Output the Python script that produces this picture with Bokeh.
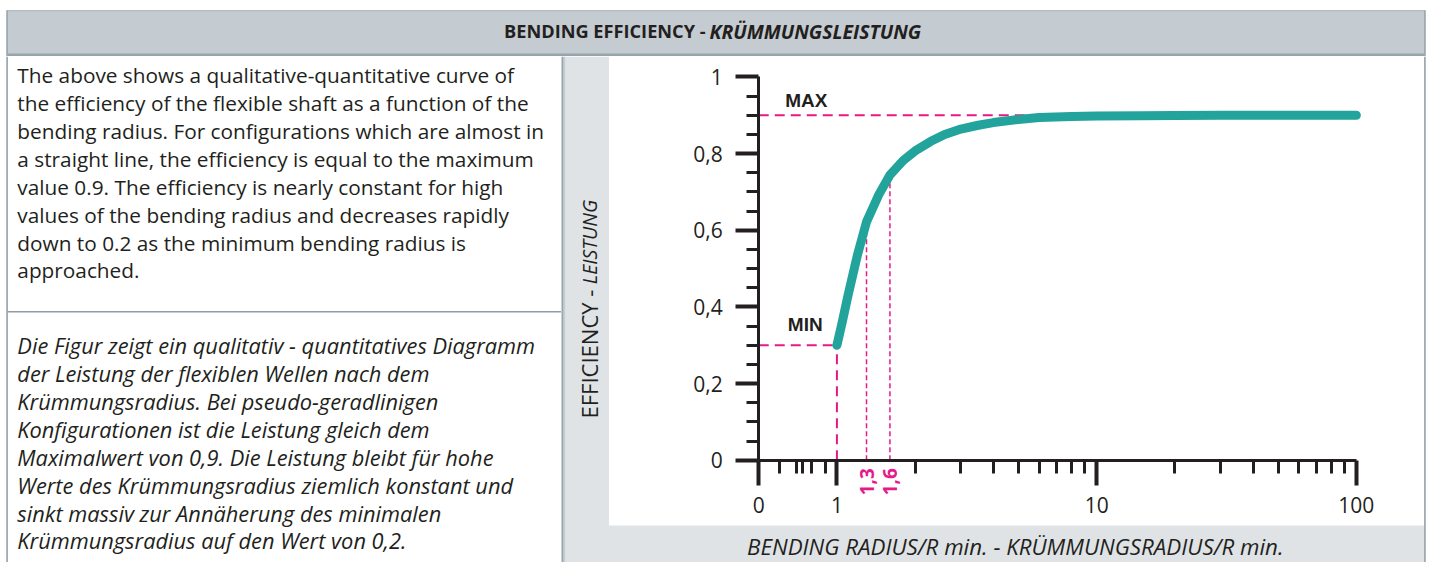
import math
from bokeh.plotting import figure
from bokeh.models import Range1d, FixedTicker, LinearScale
from bokeh.layouts import column, row
from bokeh.embed import file_html
from bokeh.resources import INLINE
from bokeh.core.properties import value

# ---------------- data ----------------
title_main = "BENDING EFFICIENCY -"
title_it = "KRÜMMUNGSLEISTUNG"
ylabel_main = "EFFICIENCY -"
ylabel_it = "LEISTUNG"
xlabel = "BENDING RADIUS/R min. - KRÜMMUNGSRADIUS/R min."

text_en = [
    "The above shows a qualitative-quantitative curve of",
    "the efficiency of the flexible shaft as a function of the",
    "bending radius. For configurations which are almost in",
    "a straight line, the efficiency is equal to the maximum",
    "value 0.9. The efficiency is nearly constant for high",
    "values of the bending radius and decreases rapidly",
    "down to 0.2 as the minimum bending radius is",
    "approached.",
]
text_de = [
    "Die Figur zeigt ein qualitativ - quantitatives Diagramm",
    "der Leistung der flexiblen Wellen nach dem",
    "Krümmungsradius. Bei pseudo-geradlinigen",
    "Konfigurationen ist die Leistung gleich dem",
    "Maximalwert von 0,9. Die Leistung bleibt für hohe",
    "Werte des Krümmungsradius ziemlich konstant und",
    "sinkt massiv zur Annäherung des minimalen",
    "Krümmungsradius auf den Wert von 0,2.",
]

radius_ratio = [1.0, 1.05, 1.1, 1.2, 1.3, 1.45, 1.6, 1.8, 2.0, 2.3, 2.6, 3.0,
                3.5, 4.0, 5.0, 6.0, 8.0, 10, 15, 20, 30, 50, 100]
efficiency = [0.300, 0.363, 0.426, 0.536, 0.622, 0.693, 0.744, 0.782, 0.807,
              0.832, 0.850, 0.864, 0.874, 0.881, 0.889, 0.894, 0.897, 0.898,
              0.899, 0.8995, 0.900, 0.900, 0.900]
eff_max = 0.9
eff_min = 0.3
r_min = 1.0
max_line_end = 7.0
marked_radii = [1.3, 1.6]
marked_labels = ["1,3", "1,6"]

x_major_ticks = [0.5, 1, 10, 100]
x_major_labels = ["0", "1", "10", "100"]
x_minor_ticks = [0.6, 0.7, 0.74, 0.8, 0.9,
                 2, 3, 4, 5, 6, 7, 8, 9,
                 20, 30, 40, 50, 60, 70, 80, 90]
y_major_ticks = [0, 0.2, 0.4, 0.6, 0.8, 1.0]
y_major_labels = ["0", "0,2", "0,4", "0,6", "0,8", "1"]
y_minor_ticks = [0.05, 0.1, 0.15, 0.25, 0.3, 0.35, 0.45, 0.5, 0.55,
                 0.65, 0.7, 0.75, 0.85, 0.9, 0.95]

# ---------------- styles / geometry (reference pixel space) ----------------
DARK = "#231f20"
HEAD_FILL = "#c4cbd1"
STRIP = "#dfe3e6"
BORDER = "#98a5ad"
MAGENTA = "#e6198b"
TEAL = "#22a39b"
FONT = value("Open Sans")

REF_W, REF_H = 1447, 578
CANVAS_W, CANVAS_H = 1431, 562
SX, SY = CANVAS_W / REF_W, CANVAS_H / REF_H
HEAD_BOTTOM = 58          # ref y where header ends
SPLIT_X = 567             # ref x where left text panel ends

# axis anchors in reference pixels
X_AT_HALF, X_AT_100 = 766.5, 1371.0
Y_AT_0, Y_AT_1 = 473.0, 79.0
DEC = (X_AT_100 - X_AT_HALF) / math.log10(100 / 0.5)
PPU = Y_AT_0 - Y_AT_1


def deco_fig(w, h, xr, yr):
    return figure(width=w, height=h, x_range=Range1d(*xr), y_range=Range1d(*yr),
                  x_axis_type=None, y_axis_type=None, tools="", toolbar_location=None,
                  output_backend="svg", min_border=0, outline_line_color=None,
                  background_fill_color="white", border_fill_color="white")


head_h = round(HEAD_BOTTOM * SY)
left_w = round(SPLIT_X * SX)
body_h = CANVAS_H - head_h
right_w = CANVAS_W - left_w

# ---------- header ----------
hdr = deco_fig(CANVAS_W, head_h, (0, REF_W), (HEAD_BOTTOM, 0))
hdr.quad(left=7, right=1440, top=10, bottom=56, fill_color=HEAD_FILL, line_color=None)
hdr.quad(left=7, right=1440, top=10, bottom=11.2, fill_color="#aab4bb", line_color=None)
hdr.quad(left=7, right=1440, top=55, bottom=57.5, fill_color=BORDER, line_color=None)
hdr.quad(left=5.8, right=7.5, top=10, bottom=58, fill_color=BORDER, line_color=None)
hdr.quad(left=1439.5, right=1441.2, top=10, bottom=58, fill_color=BORDER, line_color=None)
hdr.text(x=[713], y=[32], text=[title_main], text_font=FONT, text_font_size="18.2px",
         text_font_style="bold", text_color=DARK, text_align="right", text_baseline="middle")
hdr.text(x=[717], y=[32], text=[title_it], text_font=FONT, text_font_size="19.4px",
         text_font_style="bold italic", text_color=DARK, text_align="left", text_baseline="middle")

# ---------- left text panel ----------
left = deco_fig(left_w, body_h, (0, SPLIT_X), (REF_H, HEAD_BOTTOM))
left.quad(left=5.8, right=7.5, top=HEAD_BOTTOM, bottom=REF_H, fill_color=BORDER, line_color=None)
left.quad(left=7, right=SPLIT_X, top=319.5, bottom=321, fill_color="#8f9ca5", line_color=None)
en_y = [77 + i * 28.7 for i in range(len(text_en))]
de_y = [355 + i * 28.7 for i in range(len(text_de))]
left.text(x=[17] * len(text_en), y=en_y, text=text_en, text_font=FONT, text_font_size="20.8px",
          text_color=DARK, text_align="left", text_baseline="middle")
left.text(x=[17] * len(text_de), y=de_y, text=text_de, text_font=FONT, text_font_size="21.8px",
          text_font_style="italic", text_color=DARK, text_align="left", text_baseline="middle")

# ---------- right panel: chart with strips ----------
x_lo = 0.5 * 10 ** (-(X_AT_HALF - SPLIT_X) / DEC)
x_hi = 100 * 10 ** ((REF_W - X_AT_100) / DEC)
y_lo = -(REF_H - Y_AT_0) / PPU
y_hi = (Y_AT_0 - HEAD_BOTTOM) / PPU

p = figure(width=right_w, height=body_h, x_axis_type="log", x_range=Range1d(x_lo, x_hi),
           y_range=Range1d(y_lo, y_hi), tools="", toolbar_location=None, output_backend="svg",
           min_border=0, outline_line_color=None,
           background_fill_color="white", border_fill_color="white",
           extra_x_ranges={"px": Range1d(SPLIT_X, REF_W)}, extra_x_scales={"px": LinearScale()},
           extra_y_ranges={"px": Range1d(REF_H, HEAD_BOTTOM)}, extra_y_scales={"px": LinearScale()})
p.grid.visible = False
PX = dict(x_range_name="px", y_range_name="px")

# strips and borders
p.quad(left=571, right=615, top=HEAD_BOTTOM, bottom=REF_H, fill_color=STRIP, line_color=None, **PX)
p.quad(left=615, right=1440, top=540, bottom=REF_H, fill_color=STRIP, line_color=None, **PX)
p.quad(left=SPLIT_X - 0.5, right=569.2, top=HEAD_BOTTOM, bottom=REF_H, fill_color=BORDER,
       line_color=None, **PX)
p.quad(left=569.2, right=571, top=HEAD_BOTTOM, bottom=REF_H, fill_color="#c6cdd2",
       line_color=None, **PX)
p.quad(left=1439.5, right=1441.2, top=HEAD_BOTTOM, bottom=REF_H, fill_color=BORDER,
       line_color=None, **PX)
p.text(x=[595], y=[430], text=[ylabel_main], text_font=FONT, text_font_size="22px",
       text_color=DARK, angle=math.pi / 2, text_align="left", text_baseline="middle", **PX)
p.text(x=[595], y=[292], text=[ylabel_it], text_font=FONT, text_font_size="19.5px",
       text_font_style="italic", text_color=DARK, angle=math.pi / 2, text_align="left",
       text_baseline="middle", **PX)
p.text(x=[1026], y=[562], text=[xlabel], text_font=FONT, text_font_size="22.3px",
       text_font_style="italic", text_color=DARK, text_align="center", text_baseline="middle", **PX)

# axes
xa = p.xaxis[0]
xa.fixed_location = 0
xa.ticker = FixedTicker(ticks=x_major_ticks, minor_ticks=x_minor_ticks)
xa.bounds = (0.5, 100)
xa.major_label_overrides = dict(zip(x_major_ticks, x_major_labels))
ya = p.yaxis[0]
ya.fixed_location = 0.5
ya.ticker = FixedTicker(ticks=y_major_ticks, minor_ticks=y_minor_ticks)
ya.bounds = (0, 1)
ya.major_label_overrides = dict(zip(y_major_ticks, y_major_labels))
for ax, tick_out, minor_out in ((xa, 25, 13), (ya, 23, 12)):
    ax.axis_line_color = DARK
    ax.axis_line_width = 3
    ax.major_tick_line_color = DARK
    ax.major_tick_line_width = 4
    ax.major_tick_in = 0
    ax.major_tick_out = tick_out
    ax.minor_tick_line_color = DARK
    ax.minor_tick_line_width = 3
    ax.minor_tick_in = 0
    ax.minor_tick_out = minor_out
    ax.major_label_text_font = "Open Sans"
    ax.major_label_text_font_size = "21px"
    ax.major_label_text_color = DARK
xa.major_label_standoff = 12
ya.major_label_standoff = 13

# reference dashed lines
p.line(x=[0.5, max_line_end], y=[eff_max, eff_max], line_color=MAGENTA, line_width=2, line_dash="10 6")
p.line(x=[0.5, r_min], y=[eff_min, eff_min], line_color=MAGENTA, line_width=2, line_dash="10 6")
p.line(x=[r_min, r_min], y=[0, eff_min], line_color=MAGENTA, line_width=2, line_dash="10 6")
eff_at = dict(zip(radius_ratio, efficiency))
for r in marked_radii:
    p.line(x=[r, r], y=[0, eff_at[r]], line_color=MAGENTA, line_width=1.5, line_dash="5 3")
p.text(x=marked_radii, y=[-0.056] * len(marked_radii), text=marked_labels, angle=math.pi / 2,
       text_align="center", text_baseline="middle", text_font=FONT, text_font_size="19px",
       text_font_style="bold", text_color=MAGENTA)

# curve
p.line(x=radius_ratio, y=efficiency, line_color=TEAL, line_width=9, line_cap="round",
       line_join="round")

p.text(x=[0.762], y=[0.939], text=["MAX"], text_font=value("Liberation Sans"), text_font_size="19px",
       text_font_style="bold", text_color=DARK, text_align="center", text_baseline="middle")
p.text(x=[0.755], y=[0.355], text=["MIN"], text_font=value("Liberation Sans"), text_font_size="19px",
       text_font_style="bold", text_color=DARK, text_align="center", text_baseline="middle")

layout = column(hdr, row(left, p, spacing=0), spacing=0)
open("out.html", "w").write(file_html(layout, INLINE))
